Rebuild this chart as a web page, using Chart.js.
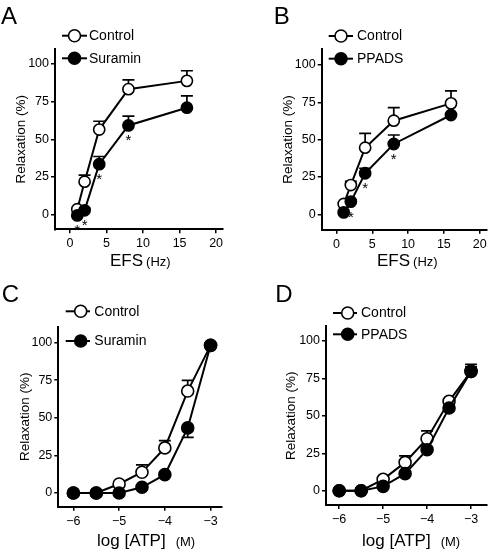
<!DOCTYPE html>
<html>
<head>
<meta charset="utf-8">
<script src="https://cdn.jsdelivr.net/npm/chart.js@4.4.1/dist/chart.umd.min.js"></script>
<style>
  body { margin: 0; background: #fff; }
  #wrap { position: relative; width: 494px; height: 554px; }
  canvas { position: absolute; }
</style>
</head>
<body>
<div id="wrap">
  <canvas id="panelA" width="247" height="277" style="left:0;top:0"></canvas>
  <canvas id="panelB" width="247" height="277" style="left:247px;top:0"></canvas>
  <canvas id="panelC" width="247" height="277" style="left:0;top:277px"></canvas>
  <canvas id="panelD" width="247" height="277" style="left:247px;top:277px"></canvas>
</div>
<script>
// x values
const efsHz = [1, 2, 4, 8, 16];
const atpLog = [-6, -5.5, -5, -4.5, -4, -3.5, -3];

// tick labels
const relaxTicks = [0, 25, 50, 75, 100];
const efsTicks = [0, 5, 10, 15, 20];
const atpTicks = [-6, -5, -4, -3];

// Panel A: EFS, control vs suramin (mean, SEM; negative SEM = bar drawn down)
const aControl = [3.6, 21.9, 56.5, 83.3, 88.8];
const aControlErr = [0, 4.4, 5.5, 6.2, 6.7];
const aSuramin = [-0.5, 2.9, 33.5, 59.2, 71];
const aSuraminErr = [0, 1.5, 5.1, 6.2, 7.8];
const aStars = [1, 2, 4, 8];

// Panel B: EFS, control vs PPADS
const bControl = [6.9, 19.6, 44.6, 62.7, 74.3];
const bControlErr = [0, 2.5, 9.6, 8.7, 8.3];
const bPpads = [1.3, 8.5, 27.5, 47.1, 66.5];
const bPpadsErr = [0, 1, 3.3, 6, 0];
const bStars = [2, 4, 8];

// Panel C: ATP, control vs suramin
const cControl = [0, 0, 6, 13.8, 30, 67.8, 98.2];
const cControlErr = [0, 0, 1.5, 4.9, 4.9, 7.1, 0];
const cSuramin = [0, 0, 0, 3.8, 12.2, 43.3, 98.2];
const cSuraminErr = [0, 0, 0, 0, 0, -6.3, 0];

// Panel D: ATP, control vs PPADS
const dControl = [0, 0, 7.6, 18.9, 34.7, 59.7, 79.7];
const dControlErr = [0, 0, 1, 4.3, 5.2, 1, 4.7];
const dPpads = [0, 0, 2.9, 11.4, 27.4, 55.2, 79.7];
const dPpadsErr = [0, 0, 0, 0, 0, 0, 3];

const FONT = "'Liberation Sans', Arial, sans-serif";
Chart.defaults.font.family = FONT;
Chart.defaults.color = '#000';

function makeExtras(cfg) {
    return {
        id: 'extras',
        beforeDatasetsDraw(chart) {
            const ctx = chart.ctx, xs = chart.scales.x, ys = chart.scales.y;
            ctx.save();
            ctx.strokeStyle = '#000';
            ctx.lineWidth = 1.7;
            cfg.series.forEach(s => {
                s.err.forEach((d, i) => {
                    if (!d) return;
                    const px = xs.getPixelForValue(cfg.xValues[i]);
                    const y0 = ys.getPixelForValue(s.values[i]);
                    const y1 = ys.getPixelForValue(s.values[i] + d);
                    ctx.beginPath();
                    ctx.moveTo(px, y0);
                    ctx.lineTo(px, y1);
                    ctx.moveTo(px - 6, y1);
                    ctx.lineTo(px + 6, y1);
                    ctx.stroke();
                });
            });
            ctx.restore();
        },
        afterDraw(chart) {
            const ctx = chart.ctx, xs = chart.scales.x, ys = chart.scales.y;
            ctx.save();
            ctx.fillStyle = '#000';
            ctx.strokeStyle = '#000';

            // panel letter
            ctx.font = '24px ' + FONT;
            ctx.textBaseline = 'alphabetic';
            ctx.fillText(cfg.letter, cfg.letterPos[0], cfg.letterPos[1]);

            // x axis title, main part + smaller unit
            ctx.font = cfg.xTitleSize + 'px ' + FONT;
            ctx.fillText(cfg.xTitle, cfg.xTitlePos[0], cfg.xTitlePos[1]);
            const w = ctx.measureText(cfg.xTitle).width;
            ctx.font = '13px ' + FONT;
            ctx.fillText(cfg.xUnit, cfg.xTitlePos[0] + w + cfg.unitGap, cfg.xTitlePos[1]);

            // legend: -O- label
            const lg = cfg.legend;
            cfg.series.forEach((s, k) => {
                const y = lg.rows[k];
                ctx.lineWidth = 2;
                ctx.beginPath();
                ctx.moveTo(lg.x0, y);
                ctx.lineTo(lg.x1, y);
                ctx.stroke();
                ctx.beginPath();
                ctx.arc(lg.cx, y, 6, 0, Math.PI * 2);
                ctx.fillStyle = s.filled ? '#000' : '#fff';
                ctx.fill();
                ctx.lineWidth = 1.6;
                ctx.stroke();
                ctx.fillStyle = '#000';
                ctx.font = '14px ' + FONT;
                ctx.textBaseline = 'middle';
                ctx.fillText(s.label, lg.tx, y + 0.5);
            });

            // significance stars under the treated series
            const tr = cfg.series[1];
            ctx.font = '15px ' + FONT;
            ctx.textAlign = 'center';
            ctx.textBaseline = 'alphabetic';
            (cfg.stars || []).forEach(xv => {
                const i = cfg.xValues.indexOf(xv);
                const px = xs.getPixelForValue(xv);
                const py = ys.getPixelForValue(tr.values[i]);
                ctx.fillText('*', px, py + 20);
            });
            ctx.restore();
        }
    };
}

function makePanel(id, cfg) {
    const a = cfg.area;
    const canvas = document.getElementById(id);
    const W = canvas.width, H = canvas.height;
    const datasets = cfg.series.map((s, k) => ({
        label: s.label,
        data: cfg.xValues.map((x, i) => ({ x: x, y: s.values[i] })),
        borderColor: '#000',
        borderWidth: 2,
        pointRadius: cfg.pointRadius,
        pointBorderWidth: 1.6,
        pointBorderColor: '#000',
        pointBackgroundColor: s.filled ? '#000' : '#fff',
        tension: 0,
        order: s.filled ? 0 : 1,
        clip: false
    }));
    new Chart(canvas.getContext('2d'), {
        type: 'line',
        data: { datasets: datasets },
        options: {
            responsive: false,
            animation: false,
            devicePixelRatio: 1,
            layout: { padding: { left: 0, top: a.t, right: W - a.r, bottom: 0 } },
            plugins: { legend: { display: false }, tooltip: { enabled: false } },
            scales: {
                x: {
                    type: 'linear',
                    min: cfg.xMin,
                    max: cfg.xMax,
                    afterBuildTicks: s => { s.ticks = cfg.xTicks.map(v => ({ value: v })); },
                    afterFit: s => { s.height = H - a.b; },
                    grid: { drawOnChartArea: false, drawTicks: true, tickLength: 4, color: '#000', lineWidth: 1.5 },
                    border: { color: '#000', width: 2 },
                    ticks: {
                        font: { size: 12.5 },
                        color: '#000',
                        padding: 3,
                        maxRotation: 0,
                        callback: v => (v < 0 ? '\u2212' + Math.abs(v) : '' + v)
                    }
                },
                y: {
                    type: 'linear',
                    min: cfg.yMin,
                    max: cfg.yMax,
                    afterBuildTicks: s => { s.ticks = relaxTicks.map(v => ({ value: v })); },
                    afterFit: s => { s.width = a.l; },
                    grid: { drawOnChartArea: false, drawTicks: true, tickLength: 4, color: '#000', lineWidth: 1.5 },
                    border: { color: '#000', width: 2 },
                    ticks: { font: { size: 12.5 }, color: '#000', padding: 2 },
                    title: {
                        display: true,
                        text: 'Relaxation (%)',
                        font: { size: 13.5 },
                        color: '#000',
                        padding: { top: cfg.yTitleX - 8.1, bottom: 0 }
                    }
                }
            }
        },
        plugins: [makeExtras(cfg)]
    });
}

makePanel('panelA', {
    letter: 'A', letterPos: [1, 24],
    xValues: efsHz, xTicks: efsTicks, xMin: -2.05, xMax: 20.9, yMin: -9.7, yMax: 109.75,
    area: { l: 55, t: 49.3, r: 222.7, b: 229.3 },
    pointRadius: 5.6, yTitleX: 20.8,
    xTitle: 'EFS', xUnit: '(Hz)', xTitleSize: 17, xTitlePos: [110, 266], unitGap: 3,
    legend: { x0: 62, x1: 87, cx: 74.5, tx: 89, rows: [35.7, 58.3] },
    series: [
        { label: 'Control', values: aControl, err: aControlErr, filled: false },
        { label: 'Suramin', values: aSuramin, err: aSuraminErr, filled: true }
    ],
    stars: aStars
});

makePanel('panelB', {
    letter: 'B', letterPos: [26.7, 23.5],
    xValues: efsHz, xTicks: efsTicks, xMin: -2.07, xMax: 21.0, yMin: -10.3, yMax: 110.5,
    area: { l: 74.7, t: 49.3, r: 242, b: 229.7 },
    pointRadius: 5.6, yTitleX: 40.8,
    xTitle: 'EFS', xUnit: '(Hz)', xTitleSize: 17, xTitlePos: [130, 266], unitGap: 3,
    legend: { x0: 81.7, x1: 106, cx: 94, tx: 110, rows: [36, 58.7] },
    series: [
        { label: 'Control', values: bControl, err: bControlErr, filled: false },
        { label: 'PPADS', values: bPpads, err: bPpadsErr, filled: true }
    ],
    stars: bStars
});

makePanel('panelC', {
    letter: 'C', letterPos: [1.7, 25],
    xValues: atpLog, xTicks: atpTicks, xMin: -6.33, xMax: -2.75, yMin: -9.1, yMax: 110.4,
    area: { l: 58.3, t: 50, r: 222, b: 229.7 },
    pointRadius: 6, yTitleX: 25,
    xTitle: 'log [ATP]', xUnit: '(M)', xTitleSize: 17, xTitlePos: [97, 269], unitGap: 10,
    legend: { x0: 65.7, x1: 90, cx: 80.7, tx: 94.3, rows: [34.3, 64] },
    series: [
        { label: 'Control', values: cControl, err: cControlErr, filled: false },
        { label: 'Suramin', values: cSuramin, err: cSuraminErr, filled: true }
    ]
});

makePanel('panelD', {
    letter: 'D', letterPos: [28.3, 25],
    xValues: atpLog, xTicks: atpTicks, xMin: -6.3, xMax: -2.65, yMin: -9.55, yMax: 109.8,
    area: { l: 79, t: 49.3, r: 246, b: 228 },
    pointRadius: 6, yTitleX: 44.2,
    xTitle: 'log [ATP]', xUnit: '(M)', xTitleSize: 17, xTitlePos: [115, 269], unitGap: 10,
    legend: { x0: 86, x1: 110, cx: 100.7, tx: 114, rows: [36, 57.3] },
    series: [
        { label: 'Control', values: dControl, err: dControlErr, filled: false },
        { label: 'PPADS', values: dPpads, err: dPpadsErr, filled: true }
    ]
});
</script>
</body>
</html>
